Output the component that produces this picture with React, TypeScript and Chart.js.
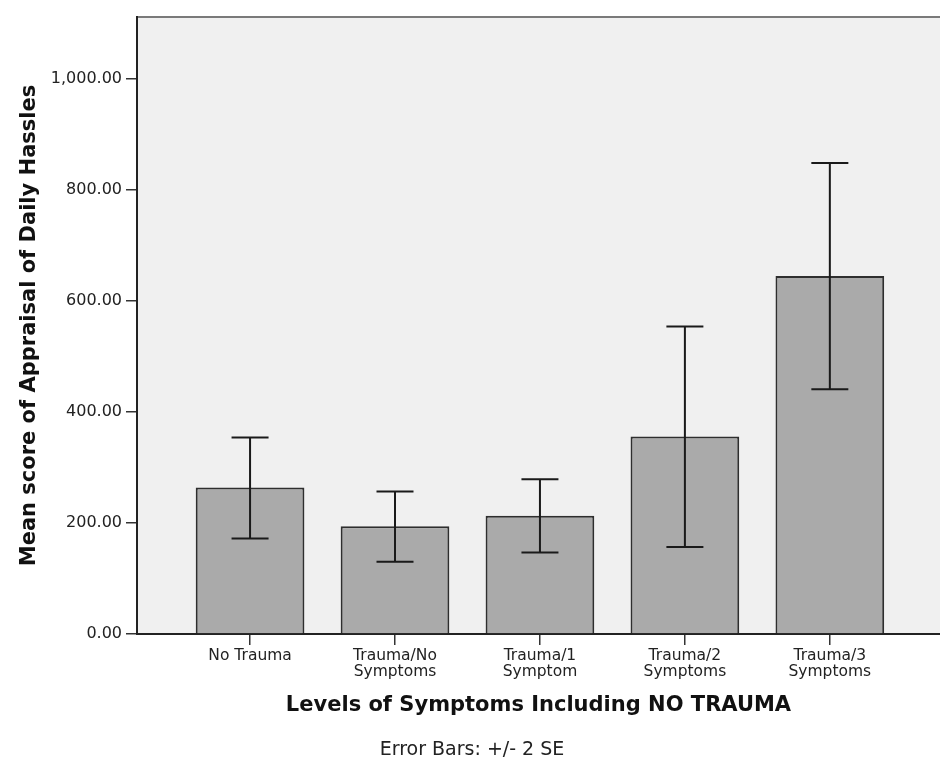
import React, { useEffect, useRef } from "react";
import { Chart, registerables } from "chart.js";

Chart.register(...registerables);

const categories: string[][] = [
  ["No Trauma"],
  ["Trauma/No", "Symptoms"],
  ["Trauma/1", "Symptom"],
  ["Trauma/2", "Symptoms"],
  ["Trauma/3", "Symptoms"],
];
const means: number[] = [264, 194, 213, 356, 645];
const errLower: number[] = [172, 130, 147, 157, 441];
const errUpper: number[] = [354, 257, 279, 554, 849];
const yTicks: number[] = [0, 200, 400, 600, 800, 1000];
const yMax = 1112;
const xTitle = "Levels of Symptoms Including NO TRAUMA";
const yTitle = "Mean score of Appraisal of Daily Hassles";
const note = "Error Bars: +/- 2 SE";

const FONT = "'DejaVu Sans', sans-serif";

const bgPlugin = {
  id: "plotBg",
  beforeDraw(chart: any) {
    const { ctx, chartArea: a } = chart;
    ctx.save();
    ctx.fillStyle = "#f0f0f0";
    ctx.fillRect(a.left, a.top, a.right - a.left, a.bottom - a.top);
    ctx.strokeStyle = "#7a7a7a";
    ctx.lineWidth = 2;
    ctx.beginPath();
    ctx.moveTo(a.left, a.top);
    ctx.lineTo(a.right, a.top);
    ctx.stroke();
    ctx.restore();
  },
};

const errorBarPlugin = {
  id: "errorBars",
  afterDatasetsDraw(chart: any) {
    const { ctx } = chart;
    const xs = chart.scales.x;
    const ys = chart.scales.y;
    ctx.save();
    ctx.strokeStyle = "#1a1a1a";
    ctx.lineWidth = 2;
    const cap = 18.5;
    means.forEach((_, i) => {
      const x = xs.getPixelForValue(i);
      const yl = ys.getPixelForValue(errLower[i]);
      const yu = ys.getPixelForValue(errUpper[i]);
      ctx.beginPath();
      ctx.moveTo(x, yl);
      ctx.lineTo(x, yu);
      ctx.moveTo(x - cap, yu);
      ctx.lineTo(x + cap, yu);
      ctx.moveTo(x - cap, yl);
      ctx.lineTo(x + cap, yl);
      ctx.stroke();
    });
    ctx.restore();
  },
};

const notePlugin = {
  id: "noteText",
  afterDraw(chart: any) {
    const { ctx, chartArea: a } = chart;
    ctx.save();
    ctx.font = `19px ${FONT}`;
    ctx.fillStyle = "#222";
    ctx.textAlign = "center";
    ctx.textBaseline = "middle";
    ctx.fillText(note, a.left + 335, a.bottom + 116);
    ctx.restore();
  },
};

export default function App() {
  const ref = useRef<HTMLCanvasElement | null>(null);

  useEffect(() => {
    if (!ref.current) return;
    const chart = new Chart(ref.current, {
      type: "bar",
      data: {
        datasets: [
          {
            data: means.map((v, i) => ({ x: i, y: v })),
            backgroundColor: "#aaaaaa",
            borderColor: "#2e2e2e",
            borderWidth: 2,
            barPercentage: 0.75,
            categoryPercentage: 1,
          },
        ],
      },
      options: {
        animation: false,
        responsive: true,
        maintainAspectRatio: false,
        layout: { padding: { top: 17, left: 0, right: 0, bottom: 55 } },
        plugins: {
          legend: { display: false },
          tooltip: { enabled: false },
        },
        scales: {
          x: {
            type: "linear",
            offset: false,
            min: -0.78,
            max: 4.76,
            afterBuildTicks: (s: any) => {
              s.ticks = categories.map((_, i) => ({ value: i }));
            },
            afterFit: (s: any) => {
              s.height = 84;
            },
            ticks: {
              autoSkip: false,
              maxRotation: 0,
              padding: 3,
              color: "#222",
              font: { family: FONT, size: 15.5, lineHeight: 1.02 },
              callback: (v: any) => categories[Math.round(Number(v))] ?? "",
            },
            grid: {
              display: true,
              offset: false,
              drawOnChartArea: false,
              drawTicks: true,
              tickLength: 11,
              color: "#333",
              lineWidth: 1.5,
            },
            border: { display: true, color: "#222", width: 2 },
            title: {
              display: true,
              text: xTitle,
              color: "#111",
              font: { family: FONT, size: 21, weight: "bold" },
              padding: { top: 0, bottom: 0 },
            },
          },
          y: {
            min: 0,
            max: yMax,
            afterBuildTicks: (s: any) => {
              s.ticks = yTicks.map((v) => ({ value: v }));
            },
            afterFit: (s: any) => {
              s.width = 137;
            },
            ticks: {
              padding: 4,
              color: "#222",
              font: { family: FONT, size: 16 },
              callback: (v: any) =>
                Number(v).toLocaleString("en-US", {
                  minimumFractionDigits: 2,
                  maximumFractionDigits: 2,
                }),
            },
            grid: {
              display: true,
              drawOnChartArea: false,
              drawTicks: true,
              tickLength: 11,
              color: "#333",
              lineWidth: 1.5,
            },
            border: { display: true, color: "#222", width: 2 },
            title: {
              display: true,
              text: yTitle,
              color: "#111",
              font: { family: FONT, size: 21, weight: "bold" },
              padding: { top: 17, bottom: 0 },
            },
          },
        },
      },
      plugins: [bgPlugin, errorBarPlugin, notePlugin],
    } as any);
    return () => chart.destroy();
  }, []);

  return (
    <div
      style={{
        position: "absolute",
        left: 0,
        top: 0,
        width: 940,
        height: 773,
        background: "#fff",
      }}
    >
      <canvas ref={ref} />
    </div>
  );
}
